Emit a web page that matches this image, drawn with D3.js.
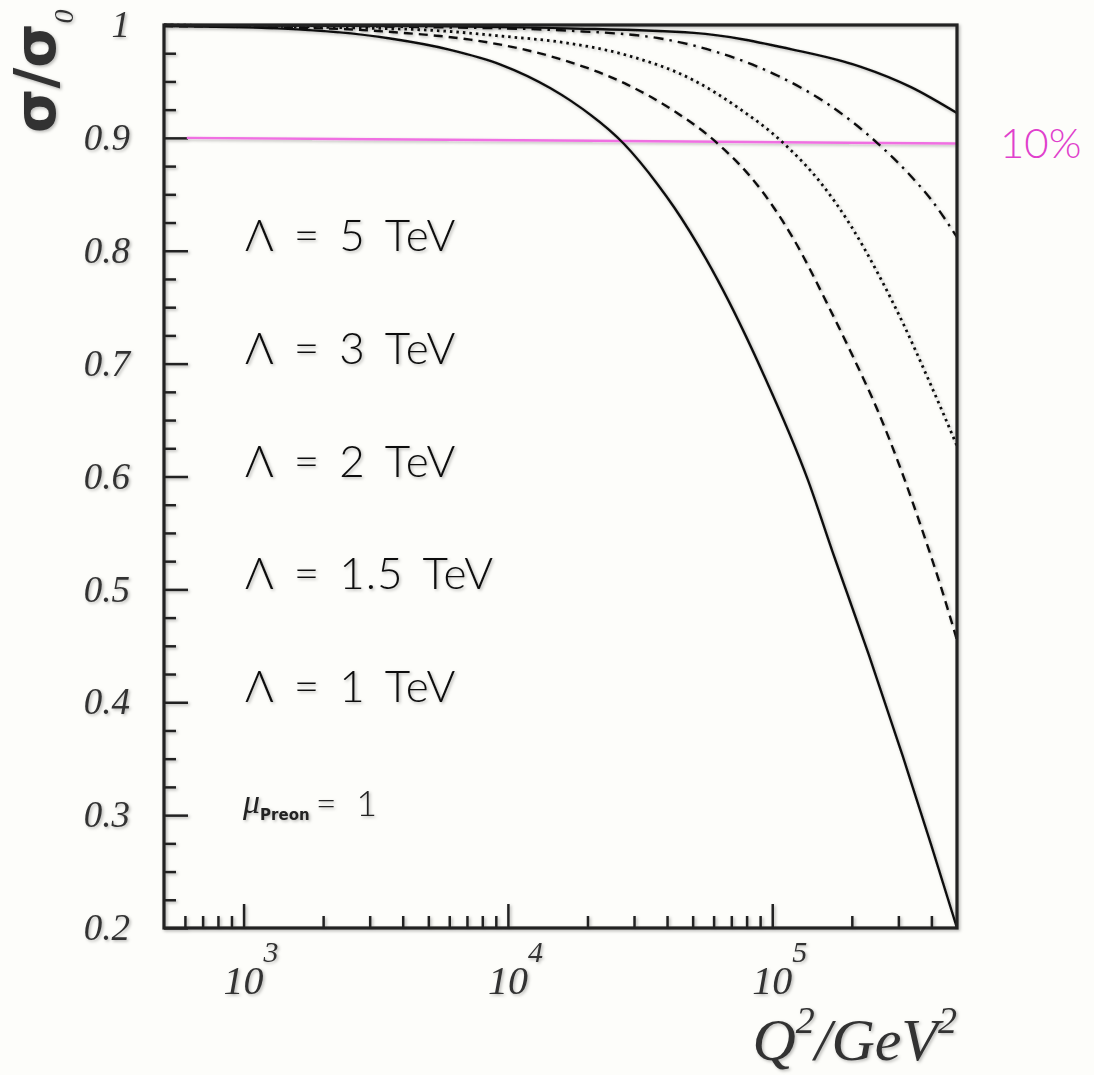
<!DOCTYPE html>
<html>
<head>
<meta charset="utf-8">
<script src="https://cdn.jsdelivr.net/npm/d3@7"></script>
<style>
  body { margin: 0; background: #fdfdfa; }
  svg { display: block; }
</style>
</head>
<body>
<div id="chart"></div>
<script>
// readings: [Q^2 / GeV^2, sigma/sigma0]
var lambda5 = [[500, 1.0], [5000, 0.999], [16800, 0.997], [50500, 0.993], [120700, 0.978],
    [216500, 0.963], [335000, 0.945], [500000, 0.922]];
var lambda3 = [[500, 1.0], [9620, 0.997], [16800, 0.995], [37800, 0.988], [63800, 0.975],
    [105000, 0.955], [162300, 0.930], [251000, 0.895], [335000, 0.866], [400000, 0.845],
    [500000, 0.812]];
var lambda2 = [[500, 1.0], [2000, 0.998], [5400, 0.995], [9620, 0.990], [16800, 0.984],
    [28400, 0.973], [50500, 0.951], [74000, 0.927], [110700, 0.895], [152800, 0.860],
    [198500, 0.822], [251000, 0.780], [315000, 0.734], [388000, 0.687], [447000, 0.654],
    [500000, 0.627]];
var lambda15 = [[500, 0.999], [2000, 0.997], [4020, 0.993], [7210, 0.987], [11150, 0.979],
    [16200, 0.969], [28400, 0.947], [42400, 0.924], [62200, 0.895], [90000, 0.855],
    [120700, 0.810], [162300, 0.752], [198500, 0.710], [251000, 0.658], [307000, 0.606],
    [365000, 0.556], [435000, 0.502], [500000, 0.455]];
var lambda1 = [[500, 0.999], [1340, 0.997], [3590, 0.988], [6050, 0.978], [9380, 0.965],
    [14500, 0.944], [17260, 0.933], [27400, 0.895], [36800, 0.859], [42400, 0.839],
    [62200, 0.774], [92900, 0.690], [136400, 0.597], [171000, 0.530], [232000, 0.442],
    [312000, 0.352], [398700, 0.274], [500000, 0.200]];

// hand drawn 10% line
var tenPercentLine = [[610, 0.900], [500000, 0.895]];

var curveLabels = ["Λ = 5 TeV", "Λ = 3 TeV", "Λ = 2 TeV", "Λ = 1.5 TeV", "Λ = 1 TeV"];
var curveDashes = ["none", "10,6,2.5,6", "2.5,4", "9,6", "none"];

var yMajor = [1.0, 0.9, 0.8, 0.7, 0.6, 0.5, 0.4, 0.3, 0.2];
var yTickLabels = ["1", "0.9", "0.8", "0.7", "0.6", "0.5", "0.4", "0.3", "0.2"];
var xMajor = [1e3, 1e4, 1e5];
var xExponents = ["3", "4", "5"];

var W = 1094, H = 1075;
var margin = {top: 25, right: 137, bottom: 147, left: 164};
var chartWidth = W - margin.left - margin.right;
var chartHeight = H - margin.top - margin.bottom;

var svg = d3.select("#chart").append("svg")
    .attr("width", W)
    .attr("height", H);

// soft scan shadow
var defs = svg.append("defs");
defs.append("filter").attr("id", "shadow")
    .attr("x", "-5%").attr("y", "-5%").attr("width", "110%").attr("height", "110%")
  .append("feDropShadow")
    .attr("dx", 1.5).attr("dy", 1.5).attr("stdDeviation", 1.4)
    .attr("flood-color", "#000").attr("flood-opacity", 0.28);

var root = svg.append("g").attr("filter", "url(#shadow)");
var g = root.append("g")
    .attr("transform", "translate(" + margin.left + "," + margin.top + ")");

var x = d3.scaleLog().domain([500, 500000]).range([0, chartWidth]);
var y = d3.scaleLinear().domain([0.2, 1.0]).range([chartHeight, 0]);

// minor ticks
var xMinor = [];
[100, 1000, 10000, 100000].forEach(function(dec) {
    for (var k = 2; k <= 9; k++) {
        var v = dec * k;
        if (v > 500 && v < 500000) xMinor.push(v);
    }
});
var yMinor = d3.range(0, 33).map(function(i) { return 0.2 + i * 0.025; })
    .filter(function(v) { return Math.abs(Math.round(v * 10) - v * 10) > 0.01; });

function styleAxis(sel) {
    sel.select(".domain").remove();
    sel.selectAll("line").attr("stroke", "#222").attr("stroke-width", 2.5);
}

g.append("g").attr("transform", "translate(0," + chartHeight + ")")
    .call(d3.axisBottom(x).tickValues(xMinor).tickSize(-12).tickFormat(""))
    .call(styleAxis);
g.append("g").attr("transform", "translate(0," + chartHeight + ")")
    .call(d3.axisBottom(x).tickValues(xMajor).tickSize(-24).tickFormat(""))
    .call(styleAxis);
g.append("g")
    .call(d3.axisLeft(y).tickValues(yMinor).tickSize(-12).tickFormat(""))
    .call(styleAxis);
g.append("g")
    .call(d3.axisLeft(y).tickValues(yMajor).tickSize(-24).tickFormat(""))
    .call(styleAxis);

// y tick labels
g.selectAll(".ylab").data(yMajor).enter().append("text")
    .attr("class", "ylab")
    .attr("x", -34)
    .attr("y", function(d) { return y(d); })
    .attr("dy", "0.33em")
    .attr("text-anchor", "end")
    .style("font-family", "'Liberation Serif', serif")
    .style("font-style", "italic")
    .style("font-size", "37px")
    .attr("fill", "#333")
    .text(function(d, i) { return yTickLabels[i]; });

// x tick labels 10^n
xMajor.forEach(function(v, i) {
    var t = g.append("text")
        .attr("y", chartHeight + 66)
        .style("font-family", "'Liberation Serif', serif")
        .style("font-style", "italic")
        .attr("fill", "#333");
    var base = t.append("tspan").style("font-size", "40px").text("10");
    t.append("tspan").style("font-size", "30px").attr("dy", -32).text(xExponents[i]);
    var bw = base.node().getComputedTextLength();
    t.attr("x", x(v) - bw / 2);
});

// 10% line
var line = d3.line()
    .x(function(d) { return x(d[0]); })
    .y(function(d) { return y(d[1]); });
g.append("path")
    .datum(tenPercentLine)
    .attr("d", line)
    .attr("fill", "none")
    .attr("stroke", "#f070e2")
    .attr("stroke-width", 2.5);

// curves
var curveLine = d3.line()
    .x(function(d) { return x(d[0]); })
    .y(function(d) { return y(d[1]); })
    .curve(d3.curveMonotoneX);
var series = [lambda5, lambda3, lambda2, lambda15, lambda1];
series.forEach(function(s, i) {
    g.append("path")
        .datum(s)
        .attr("d", curveLine)
        .attr("fill", "none")
        .attr("stroke", "#111")
        .attr("stroke-width", i === 2 ? 2.8 : 2.4)
        .attr("stroke-dasharray", curveDashes[i]);
});

// frame
g.append("rect")
    .attr("width", chartWidth).attr("height", chartHeight)
    .attr("fill", "none").attr("stroke", "#222").attr("stroke-width", 3.2);

// curve labels
curveLabels.forEach(function(lab, i) {
    g.append("text")
        .attr("x", 245 - margin.left)
        .attr("y", y(0.8 - i * 0.1))
        .style("font-family", "Lato, 'DejaVu Sans', sans-serif")
        .style("font-weight", 300)
        .style("font-size", "44px")
        .style("letter-spacing", "1px")
        .style("word-spacing", "6px")
        .attr("fill", "#111")
        .text(lab);
});

// mu_Preon = 1
var mu = g.append("text")
    .attr("x", 243 - margin.left)
    .attr("y", 813 - margin.top)
    .attr("fill", "#222");
mu.append("tspan").style("font-family", "'Liberation Serif', serif")
    .style("font-style", "italic").style("font-size", "34px").text("μ");
mu.append("tspan").style("font-family", "'DejaVu Sans', sans-serif")
    .style("font-weight", "bold").style("font-size", "15px").attr("dy", 7).text("Preon");
mu.append("tspan").style("font-family", "Lato, sans-serif")
    .style("font-weight", 300)
    .style("font-size", "36px").style("word-spacing", "10px")
    .attr("dy", -4).attr("dx", 6).text("= 1");

// y axis title sigma/sigma0
var yt = root.append("text")
    .attr("transform", "translate(55,133) rotate(-90)")
    .attr("fill", "#333");
yt.append("tspan").style("font-family", "'DejaVu Sans', sans-serif")
    .style("font-weight", "bold").style("font-size", "57px").text("σ/σ");
yt.append("tspan").style("font-family", "'Liberation Serif', serif")
    .style("font-style", "italic").style("font-size", "28px").attr("dy", 18).text("0");

// x axis title Q^2/GeV^2
var xt = root.append("text")
    .attr("x", 957)
    .attr("y", 1060)
    .attr("text-anchor", "end")
    .style("font-family", "'Liberation Serif', serif")
    .style("font-style", "italic")
    .attr("fill", "#333");
xt.append("tspan").style("font-size", "60px").text("Q");
xt.append("tspan").style("font-size", "38px").attr("dy", -27).text("2");
xt.append("tspan").style("font-size", "60px").attr("dy", 27).text("/GeV");
xt.append("tspan").style("font-size", "38px").attr("dy", -27).text("2");

// hand written note
svg.append("text")
    .attr("x", 1000)
    .attr("y", 158)
    .style("font-family", "Lato, 'DejaVu Sans', sans-serif")
    .style("font-weight", 300)
    .style("font-size", "42px")
    .attr("fill", "#e040cc")
    .text("10%");
</script>
</body>
</html>
